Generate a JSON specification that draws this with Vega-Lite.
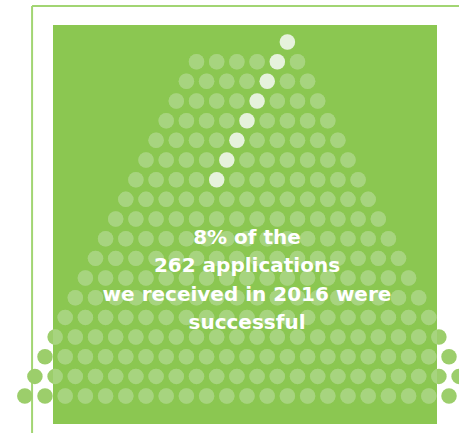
{
 "$schema": "https://vega.github.io/schema/vega-lite/v6.json",
 "width": 384, "height": 399,
 "autosize": {"type": "none"},
 "padding": {"left": 53, "top": 25, "right": 22, "bottom": 9},
 "background": "white",
 "config": {"view": {"fill": "#8BC751", "stroke": null}},
 "datasets": {
  "frame": [{"x": -10.64, "y": -1.83, "x2": -10.64, "y2": 21}, {"x": -10.64, "y": -1.83, "x2": 12, "y2": -1.83}],
  "dots": [
{"r":0,"x":2,"s":1},
{"r":1,"x":-2.5},{"r":1,"x":-1.5},{"r":1,"x":-0.5},{"r":1,"x":0.5},{"r":1,"x":1.5,"s":1},{"r":1,"x":2.5},
{"r":2,"x":-3},{"r":2,"x":-2},{"r":2,"x":-1},{"r":2,"x":0},{"r":2,"x":1,"s":1},{"r":2,"x":2},{"r":2,"x":3},
{"r":3,"x":-3.5},{"r":3,"x":-2.5},{"r":3,"x":-1.5},{"r":3,"x":-0.5},{"r":3,"x":0.5,"s":1},{"r":3,"x":1.5},{"r":3,"x":2.5},{"r":3,"x":3.5},
{"r":4,"x":-4},{"r":4,"x":-3},{"r":4,"x":-2},{"r":4,"x":-1},{"r":4,"x":0,"s":1},{"r":4,"x":1},{"r":4,"x":2},{"r":4,"x":3},{"r":4,"x":4},
{"r":5,"x":-4.5},{"r":5,"x":-3.5},{"r":5,"x":-2.5},{"r":5,"x":-1.5},{"r":5,"x":-0.5,"s":1},{"r":5,"x":0.5},{"r":5,"x":1.5},{"r":5,"x":2.5},{"r":5,"x":3.5},{"r":5,"x":4.5},
{"r":6,"x":-5},{"r":6,"x":-4},{"r":6,"x":-3},{"r":6,"x":-2},{"r":6,"x":-1,"s":1},{"r":6,"x":0},{"r":6,"x":1},{"r":6,"x":2},{"r":6,"x":3},{"r":6,"x":4},{"r":6,"x":5},
{"r":7,"x":-5.5},{"r":7,"x":-4.5},{"r":7,"x":-3.5},{"r":7,"x":-2.5},{"r":7,"x":-1.5,"s":1},{"r":7,"x":-0.5},{"r":7,"x":0.5},{"r":7,"x":1.5},{"r":7,"x":2.5},{"r":7,"x":3.5},{"r":7,"x":4.5},{"r":7,"x":5.5},
{"r":8,"x":-6},{"r":8,"x":-5},{"r":8,"x":-4},{"r":8,"x":-3},{"r":8,"x":-2},{"r":8,"x":-1},{"r":8,"x":0},{"r":8,"x":1},{"r":8,"x":2},{"r":8,"x":3},{"r":8,"x":4},{"r":8,"x":5},{"r":8,"x":6},
{"r":9,"x":-6.5},{"r":9,"x":-5.5},{"r":9,"x":-4.5},{"r":9,"x":-3.5},{"r":9,"x":-2.5},{"r":9,"x":-1.5},{"r":9,"x":-0.5},{"r":9,"x":0.5},{"r":9,"x":1.5},{"r":9,"x":2.5},{"r":9,"x":3.5},{"r":9,"x":4.5},{"r":9,"x":5.5},{"r":9,"x":6.5},
{"r":10,"x":-7},{"r":10,"x":-6},{"r":10,"x":-5},{"r":10,"x":-4},{"r":10,"x":-3},{"r":10,"x":-2},{"r":10,"x":-1},{"r":10,"x":0},{"r":10,"x":1},{"r":10,"x":2},{"r":10,"x":3},{"r":10,"x":4},{"r":10,"x":5},{"r":10,"x":6},{"r":10,"x":7},
{"r":11,"x":-7.5},{"r":11,"x":-6.5},{"r":11,"x":-5.5},{"r":11,"x":-4.5},{"r":11,"x":-3.5},{"r":11,"x":-2.5},{"r":11,"x":-1.5},{"r":11,"x":-0.5},{"r":11,"x":0.5},{"r":11,"x":1.5},{"r":11,"x":2.5},{"r":11,"x":3.5},{"r":11,"x":4.5},{"r":11,"x":5.5},{"r":11,"x":6.5},{"r":11,"x":7.5},
{"r":12,"x":-8},{"r":12,"x":-7},{"r":12,"x":-6},{"r":12,"x":-5},{"r":12,"x":-4},{"r":12,"x":-3},{"r":12,"x":-2},{"r":12,"x":-1},{"r":12,"x":0},{"r":12,"x":1},{"r":12,"x":2},{"r":12,"x":3},{"r":12,"x":4},{"r":12,"x":5},{"r":12,"x":6},{"r":12,"x":7},{"r":12,"x":8},
{"r":13,"x":-8.5},{"r":13,"x":-7.5},{"r":13,"x":-6.5},{"r":13,"x":-5.5},{"r":13,"x":-4.5},{"r":13,"x":-3.5},{"r":13,"x":-2.5},{"r":13,"x":-1.5},{"r":13,"x":-0.5},{"r":13,"x":0.5},{"r":13,"x":1.5},{"r":13,"x":2.5},{"r":13,"x":3.5},{"r":13,"x":4.5},{"r":13,"x":5.5},{"r":13,"x":6.5},{"r":13,"x":7.5},{"r":13,"x":8.5},
{"r":14,"x":-9},{"r":14,"x":-8},{"r":14,"x":-7},{"r":14,"x":-6},{"r":14,"x":-5},{"r":14,"x":-4},{"r":14,"x":-3},{"r":14,"x":-2},{"r":14,"x":-1},{"r":14,"x":0},{"r":14,"x":1},{"r":14,"x":2},{"r":14,"x":3},{"r":14,"x":4},{"r":14,"x":5},{"r":14,"x":6},{"r":14,"x":7},{"r":14,"x":8},{"r":14,"x":9},
{"r":15,"x":-9.5},{"r":15,"x":-8.5},{"r":15,"x":-7.5},{"r":15,"x":-6.5},{"r":15,"x":-5.5},{"r":15,"x":-4.5},{"r":15,"x":-3.5},{"r":15,"x":-2.5},{"r":15,"x":-1.5},{"r":15,"x":-0.5},{"r":15,"x":0.5},{"r":15,"x":1.5},{"r":15,"x":2.5},{"r":15,"x":3.5},{"r":15,"x":4.5},{"r":15,"x":5.5},{"r":15,"x":6.5},{"r":15,"x":7.5},{"r":15,"x":8.5},{"r":15,"x":9.5},
{"r":16,"x":-10},{"r":16,"x":-9},{"r":16,"x":-8},{"r":16,"x":-7},{"r":16,"x":-6},{"r":16,"x":-5},{"r":16,"x":-4},{"r":16,"x":-3},{"r":16,"x":-2},{"r":16,"x":-1},{"r":16,"x":0},{"r":16,"x":1},{"r":16,"x":2},{"r":16,"x":3},{"r":16,"x":4},{"r":16,"x":5},{"r":16,"x":6},{"r":16,"x":7},{"r":16,"x":8},{"r":16,"x":9},{"r":16,"x":10},
{"r":17,"x":-10.5},{"r":17,"x":-9.5},{"r":17,"x":-8.5},{"r":17,"x":-7.5},{"r":17,"x":-6.5},{"r":17,"x":-5.5},{"r":17,"x":-4.5},{"r":17,"x":-3.5},{"r":17,"x":-2.5},{"r":17,"x":-1.5},{"r":17,"x":-0.5},{"r":17,"x":0.5},{"r":17,"x":1.5},{"r":17,"x":2.5},{"r":17,"x":3.5},{"r":17,"x":4.5},{"r":17,"x":5.5},{"r":17,"x":6.5},{"r":17,"x":7.5},{"r":17,"x":8.5},{"r":17,"x":9.5},{"r":17,"x":10.5},
{"r":18,"x":-11},{"r":18,"x":-10},{"r":18,"x":-9},{"r":18,"x":-8},{"r":18,"x":-7},{"r":18,"x":-6},{"r":18,"x":-5},{"r":18,"x":-4},{"r":18,"x":-3},{"r":18,"x":-2},{"r":18,"x":-1},{"r":18,"x":0},{"r":18,"x":1},{"r":18,"x":2},{"r":18,"x":3},{"r":18,"x":4},{"r":18,"x":5},{"r":18,"x":6},{"r":18,"x":7},{"r":18,"x":8},{"r":18,"x":9},{"r":18,"x":10},{"r":18,"x":11}
  ]
 },
 "layer": [
  {
   "data": {"name": "frame"},
   "mark": {"type": "rule", "clip": false, "color": "#A2D573", "strokeWidth": 2},
   "encoding": {
    "x": {"field": "x", "type": "quantitative", "scale": {"domain": [-9.604, 9.406], "nice": false, "zero": false}, "axis": null},
    "y": {"field": "y", "type": "quantitative", "scale": {"domain": [-0.864, 19.42], "nice": false, "zero": false, "reverse": true}, "axis": null},
    "x2": {"field": "x2"},
    "y2": {"field": "y2"}
   }
  },
  {
   "data": {"name": "dots"},
   "mark": {"type": "circle", "size": 240, "opacity": 1, "color": "#9CCE6B", "clip": false},
   "encoding": {
    "x": {"field": "x", "type": "quantitative", "scale": {"domain": [-9.604, 9.406], "nice": false, "zero": false}, "axis": null},
    "y": {"field": "r", "type": "quantitative", "scale": {"domain": [-0.864, 19.42], "nice": false, "zero": false, "reverse": true}, "axis": null}
   }
  },
  {
   "data": {"name": "dots"},
   "mark": {"type": "circle", "size": 240, "opacity": 1, "clip": true},
   "encoding": {
    "x": {"field": "x", "type": "quantitative", "scale": {"domain": [-9.604, 9.406], "nice": false, "zero": false}, "axis": null},
    "y": {"field": "r", "type": "quantitative", "scale": {"domain": [-0.864, 19.42], "nice": false, "zero": false, "reverse": true}, "axis": null},
    "color": {"condition": {"test": "datum.s === 1", "value": "#E6F2DC"}, "value": "#A7D47F"}
   }
  },
  {
   "data": {"values": [{}]},
   "mark": {"type": "text", "align": "center", "baseline": "middle", "color": "white", "font": "DejaVu Sans", "fontWeight": "bold", "fontSize": 20, "lineHeight": 28.5,
            "text": ["8% of the", "262 applications", "we received in 2016 were", "successful"]},
   "encoding": {
    "x": {"datum": 0, "type": "quantitative"},
    "y": {"datum": 9.96, "type": "quantitative"}
   }
  }
 ]
}
